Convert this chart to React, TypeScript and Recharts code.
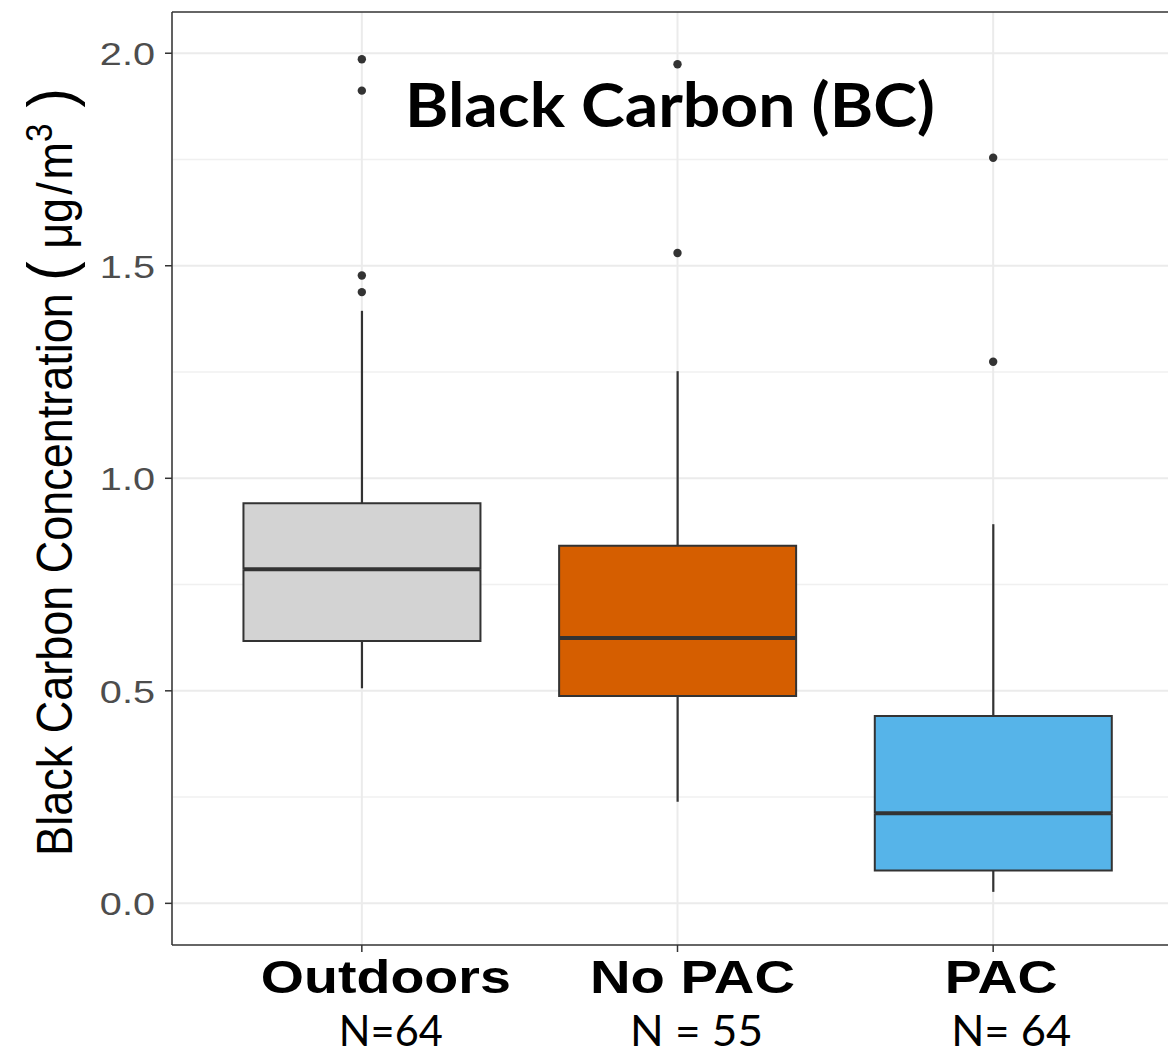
import React from 'react';
import {
  ComposedChart, Bar, Scatter, XAxis, YAxis, CartesianGrid, ReferenceLine,
} from 'recharts';

const categories = ['Outdoors', 'No PAC', 'PAC'];
const nLabels = ['N=64', 'N = 55', 'N= 64'];
const whiskerLow = [0.506, 0.239, 0.027];
const q1 = [0.617, 0.488, 0.077];
const median = [0.786, 0.624, 0.212];
const q3 = [0.941, 0.841, 0.441];
const whiskerHigh = [1.394, 1.252, 0.892];
const outliersOutdoors = [1.438, 1.477, 1.912, 1.986];
const outliersNoPAC = [1.530, 1.974];
const outliersPAC = [1.274, 1.754];
const fills = ['#D3D3D3', '#D55E00', '#56B4E9'];
const yTicks = [0, 0.5, 1, 1.5, 2];
const yMinor = [0.25, 0.75, 1.25, 1.75];
const catWidths = [250, 205, 113];
const catShift = [24, 15, 8];
const nWidths = [104, 133, 120];
const nShift = [29, 19, 18];

const data = categories.map((c, i) => ({
  cat: c,
  fill: fills[i],
  base: whiskerLow[i],
  lowWhisker: q1[i] - whiskerLow[i],
  lowerBox: median[i] - q1[i],
  upperBox: q3[i] - median[i],
  highWhisker: whiskerHigh[i] - q3[i],
}));

const outlierData = [
  ...outliersOutdoors.map((v) => ({ cat: categories[0], v })),
  ...outliersNoPAC.map((v) => ({ cat: categories[1], v })),
  ...outliersPAC.map((v) => ({ cat: categories[2], v })),
];

const EDGE = '#333333';

const WhiskerShape = (p: any) => {
  const cx = p.x + p.width / 2;
  const top = Math.min(p.y, p.y + p.height);
  const bot = Math.max(p.y, p.y + p.height);
  return <line x1={cx} x2={cx} y1={top} y2={bot} stroke={EDGE} strokeWidth={2.2} />;
};

const LowerBoxShape = (p: any) => {
  const top = Math.min(p.y, p.y + p.height);
  const bot = Math.max(p.y, p.y + p.height);
  const l = p.x, r = p.x + p.width;
  return (
    <g>
      <rect x={l} y={top} width={p.width} height={bot - top} fill={p.payload.fill} />
      <path d={`M${l},${top} L${l},${bot} L${r},${bot} L${r},${top}`} fill="none" stroke={EDGE} strokeWidth={2} />
    </g>
  );
};

const UpperBoxShape = (p: any) => {
  const top = Math.min(p.y, p.y + p.height);
  const bot = Math.max(p.y, p.y + p.height);
  const l = p.x, r = p.x + p.width;
  return (
    <g>
      <rect x={l} y={top} width={p.width} height={bot - top} fill={p.payload.fill} />
      <path d={`M${l},${bot} L${l},${top} L${r},${top} L${r},${bot}`} fill="none" stroke={EDGE} strokeWidth={2} />
      <line x1={l} x2={r} y1={bot} y2={bot} stroke={EDGE} strokeWidth={4} />
    </g>
  );
};

const YTick = (p: any) => {
  const { x, y, payload } = p;
  return (
    <text
      transform={`translate(${x - 8},${y + 12}) scale(1.24,1)`}
      textAnchor="end"
      fontFamily="'Liberation Sans', Arial, sans-serif"
      fontSize={32}
      fill="#4D4D4D"
    >
      {Number(payload.value).toFixed(1)}
    </text>
  );
};

const XTick = (p: any) => {
  const { x, payload } = p;
  const i = categories.indexOf(payload.value);
  return (
    <g>
      <text
        x={x + catShift[i]}
        y={993}
        textAnchor="middle"
        fontFamily="'Liberation Sans', Arial, sans-serif"
        fontWeight="bold"
        fontSize={47}
        fill="#000"
        textLength={catWidths[i]}
        lengthAdjust="spacingAndGlyphs"
      >
        {payload.value}
      </text>
      <text
        x={x + nShift[i]}
        y={1046}
        textAnchor="middle"
        fontFamily="Lato, 'Open Sans', sans-serif"
        fontSize={42}
        fill="#000"
        textLength={nWidths[i]}
        lengthAdjust="spacingAndGlyphs"
      >
        {nLabels[i]}
      </text>
    </g>
  );
};

const YLabel = () => (
  <text
    transform={`translate(72,472) scale(1.1,1) rotate(-90)`}
    textAnchor="middle"
    fontFamily="'Liberation Sans', Arial, sans-serif"
    fontSize={45}
    fill="#000"
  >
    Black Carbon Concentration{' '}
    <tspan fontSize={58}>(</tspan>
    <tspan> μg</tspan>
    <tspan dx={3}>/</tspan>
    <tspan dx={3}>m</tspan>
    <tspan fontSize={33} dy={-18}>3</tspan>
    <tspan fontSize={58} dy={18}> )</tspan>
  </text>
);

export default function App() {
  return (
    <div style={{ position: 'absolute', left: 0, top: 0, width: 1168, height: 1055, overflow: 'hidden', background: '#fff' }}>
      <ComposedChart
        width={1200}
        height={1055}
        data={data}
        margin={{ top: 12, right: 17, bottom: 0, left: 0 }}
        barCategoryGap="12.5%"
      >
        <CartesianGrid
          horizontalValues={yMinor}
          vertical={false}
          stroke="#F0F0F0"
          strokeWidth={1.5}
        />
        <CartesianGrid stroke="#EBEBEB" strokeWidth={2} horizontalValues={yTicks} />
        <XAxis
          dataKey="cat"
          type="category"
          allowDuplicatedCategory={false}
          padding={{ left: 32, right: 32 }}
          height={110}
          axisLine={{ stroke: EDGE, strokeWidth: 1.5 }}
          tickLine={{ stroke: EDGE, strokeWidth: 1.5 }}
          tickSize={7}
          tick={<XTick />}
          interval={0}
        />
        <YAxis
          type="number"
          domain={[-0.098, 2.097]}
          allowDataOverflow
          ticks={yTicks}
          width={172}
          axisLine={{ stroke: EDGE, strokeWidth: 1.5 }}
          tickLine={{ stroke: EDGE, strokeWidth: 1.5 }}
          tickSize={7}
          tick={<YTick />}
          label={{ content: () => <YLabel /> }}
        />
        <ReferenceLine y={2.097} stroke={EDGE} strokeWidth={1.5} ifOverflow="extendDomain" />
        <Bar dataKey="base" stackId="box" fill="none" isAnimationActive={false} shape={() => <g />} />
        <Bar dataKey="lowWhisker" stackId="box" isAnimationActive={false} shape={WhiskerShape} />
        <Bar dataKey="lowerBox" stackId="box" isAnimationActive={false} shape={LowerBoxShape} />
        <Bar dataKey="upperBox" stackId="box" isAnimationActive={false} shape={UpperBoxShape} />
        <Bar dataKey="highWhisker" stackId="box" isAnimationActive={false} shape={WhiskerShape} />
        <Scatter
          data={outlierData}
          dataKey="v"
          fill={EDGE}
          isAnimationActive={false}
          shape={(p: any) => <circle cx={p.cx} cy={p.cy} r={4.2} fill={EDGE} />}
        />
      </ComposedChart>
      <svg width={1168} height={1055} style={{ position: 'absolute', left: 0, top: 0, pointerEvents: 'none' }}>
        <text
          x={405}
          y={127}
          fontFamily="Lato, 'Open Sans', sans-serif"
          fontWeight="bold"
          fontSize={61}
          fill="#000"
          textLength={530}
          lengthAdjust="spacingAndGlyphs"
        >
          Black Carbon (BC)
        </text>
      </svg>
    </div>
  );
}
